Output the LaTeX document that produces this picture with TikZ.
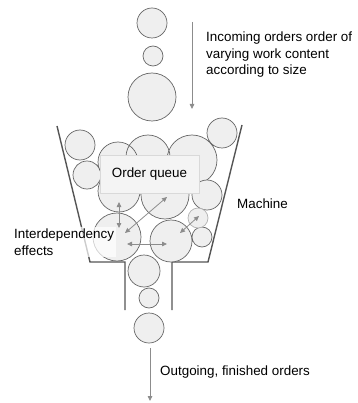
\documentclass[tikz,border=0pt]{standalone}
\usepackage{fontspec}
\setmainfont{Liberation Sans}
\usetikzlibrary{arrows.meta}
\definecolor{order fill}{HTML}{EFEFEF}
\definecolor{order line}{HTML}{666666}
\definecolor{funnel line}{HTML}{555555}
\definecolor{effect arrow}{HTML}{8C8C8C}
\tikzset{
  order/.style={fill=order fill, draw=order line, line width=0.7pt},
  funnel/.style={draw=funnel line, line width=1.4pt},
  flow/.style={draw=effect arrow, line width=0.8pt, -{Triangle[length=5pt,width=4.5pt]}},
  effect/.style={draw=effect arrow, line width=0.8pt,
    {Triangle[length=5pt,width=4.5pt]}-{Triangle[length=5pt,width=4.5pt]}},
  notetext/.style={anchor=base west, align=left, inner sep=0pt,
    font=\fontsize{13.4}{16.5}\selectfont},
  queuebox/.style={fill=order fill!70!white, draw=order fill!80!gray,
    line width=0.4pt, font=\fontsize{13.4}{16}\selectfont}
}

\begin{document}
\begin{tikzpicture}[x=1pt,y=-1pt]
			\useasboundingbox (0,0) rectangle (357,403);
			% incoming orders
			\draw[order] (152,23) circle (15) (153,56) circle (10) (152,97) circle (24);
			\coordinate (in start) at (192,22);
			\coordinate (in end) at (192,109);
			\draw[flow] (in start) -- (in end);
			\node[notetext] (incoming) at (206,75) {Incoming orders order of\\varying work content\\according to size};
			% funnel of the machine
			\draw[funnel] (57,126) -- (90,262) -- (125,262) -- (125,310);
			\draw[funnel] (242,125) -- (208,262) -- (172,262) -- (172,310);
			\node[notetext] (machine) at (237,208) {Machine};
			% queue in the funnel
			\begin{scope}
				\draw[order] (80,145) circle (15) (87,175) circle (14)
					(118,162) circle (20) (148,157) circle (22) (192,160) circle (25)
					(222,133) circle (15);
				\draw[order] (119,191) circle (21) (165,195) circle (24) (207,195) circle (15);
				\draw[order] (117,237) circle (24) (171,241) circle (21) (202,237) circle (10);
				\draw[order, draw=order line!50] (198,218) circle (10);
			\end{scope}
			\node[queuebox, minimum width=99, minimum height=38] (queue) at (149.5,174) {Order queue};
			% interdependency arrows
			\coordinate (v1) at (119,202);  \coordinate (v2) at (119,228);
			\coordinate (d1) at (125,233);  \coordinate (d2) at (167,197);
			\coordinate (h1) at (127,244);  \coordinate (h2) at (167,244);
			\coordinate (s1) at (180,233);  \coordinate (s2) at (199,216);
			\draw[effect] (v1) -- (v2);
			\draw[effect] (d1) -- (d2);
			\draw[effect] (h1) -- (h2);
			\draw[effect] (s1) -- (s2);
			\node[notetext, fill=white, fill opacity=0.7, text opacity=1, inner sep=2pt] (effects) at (12,255) {Interdependency\\effects};
			% outgoing orders
			\draw[order] (144,271) circle (16) (149,298) circle (10) (149,328) circle (15);
			\coordinate (out start) at (150,348);
			\coordinate (out end) at (150,401);
			\draw[flow] (out start) -- (out end);
			\node[notetext] (outgoing) at (160,375) {Outgoing, finished orders};
		\end{tikzpicture}
\end{document}
